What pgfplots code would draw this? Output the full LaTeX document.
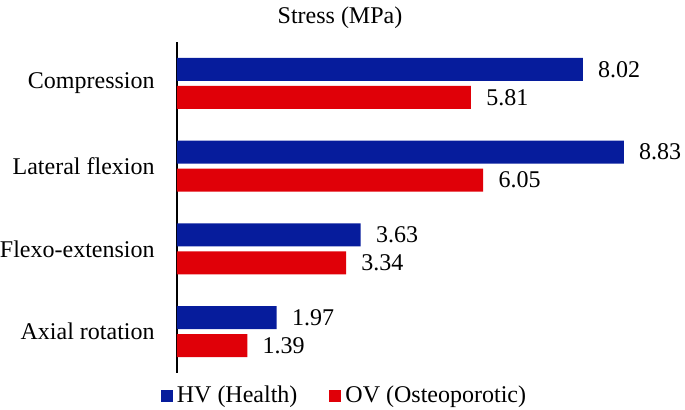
\documentclass[border=0pt,12pt]{standalone}
\usepackage{fontspec}
\setmainfont{Liberation Serif}
\usepackage{pgfplots}
\pgfplotsset{compat=1.18}

\definecolor{hvblue}{HTML}{061C9C}
\definecolor{ovred}{HTML}{E00008}

\begin{document}
\begin{tikzpicture}
\path[use as bounding box] (-88.5pt,-18.5pt) rectangle (254pt,186.5pt);
\begin{axis}[
    at={(0pt,0pt)}, anchor=south west,
    scale only axis,
    width=253pt, height=165.5pt,
    xbar, bar width=11.5pt,
    xmin=0, xmax=10,
    ymin=-0.5, ymax=3.5,
    axis y line*=left,
    axis x line=none,
    axis line style={black, line width=0.7pt},
    ytick={0,1,2,3},
    yticklabels={Axial rotation, Flexo-extension, Lateral flexion, Compression},
    major tick length=0pt,
    yticklabel style={font=\fontsize{12}{14}\selectfont, xshift=-7pt},
    nodes near coords,
    every node near coord/.append style={font=\fontsize{12}{14}\selectfont, xshift=3.5pt},
    /pgf/number format/fixed, /pgf/number format/precision=2,
    /pgf/number format/fixed zerofill,
    /pgf/number format/assume math mode=true,
    clip=false,
    legend columns=2,
    legend style={at={(axis description cs:0.333,0)}, anchor=north, yshift=-2pt,
        draw=none, fill=none, font=\fontsize{12}{14}\selectfont,
        /tikz/every even column/.append style={column sep=14pt}},
    legend image code/.code={\fill[#1] (0pt,-3pt) rectangle (6pt,3pt);},
]
\addplot[fill=hvblue, draw=none, bar shift=7pt] coordinates {
    (1.97,0) (3.63,1) (8.83,2) (8.02,3)
};
\addlegendentry{HV (Health)}
\addplot[fill=ovred, draw=none, bar shift=-7pt] coordinates {
    (1.39,0) (3.34,1) (6.05,2) (5.81,3)
};
\addlegendentry{OV (Osteoporotic)}
\end{axis}
\node[font=\fontsize{12}{14}\selectfont] at (81.5pt,177.5pt) {Stress (MPa)};
\end{tikzpicture}
\end{document}
